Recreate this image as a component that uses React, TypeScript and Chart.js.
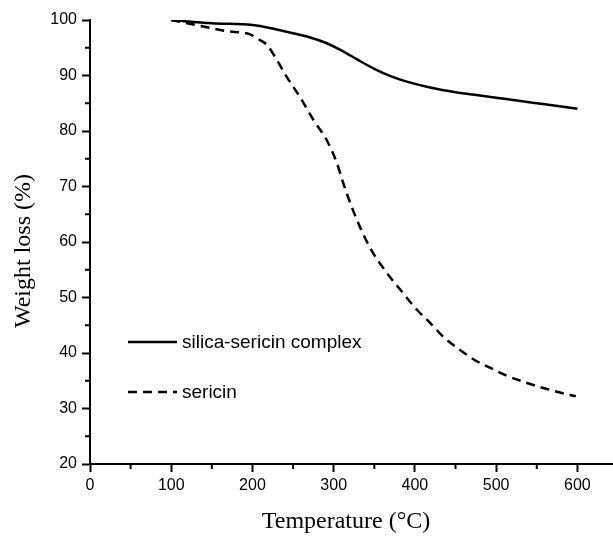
import React, { useEffect, useRef } from "react";
import { Chart, registerables } from "chart.js";

Chart.register(...registerables);

const complexTemps = [100, 150, 200, 230, 250, 270, 290, 310, 330, 350, 370, 390, 420, 450, 480, 500, 530, 560, 580, 600];
const complexWeight = [100, 99.4, 99.1, 98.3, 97.6, 96.9, 95.9, 94.5, 92.8, 91.2, 89.9, 88.9, 87.8, 87.0, 86.4, 86.0, 85.4, 84.8, 84.4, 84.0];

const sericinTemps = [100, 144, 168, 197, 209, 218, 230, 242, 259, 275, 292, 304, 312, 322, 333, 345, 361, 382, 403, 419, 435, 456, 474, 493, 513, 534, 558, 581, 598];
const sericinWeight = [100, 98.7, 98.0, 97.4, 96.4, 95.5, 92.8, 89.8, 86.0, 82.0, 78.2, 74.2, 70.5, 66.4, 62.5, 58.9, 55.3, 51.4, 47.7, 45.4, 42.9, 40.5, 38.7, 37.3, 35.9, 34.8, 33.7, 32.8, 32.2];

const seriesNames = ["silica-sericin complex", "sericin"];
const xTitle = "Temperature (°C)";
const yTitle = "Weight loss (%)";

export default function App() {
  const ref = useRef<HTMLCanvasElement | null>(null);
  useEffect(() => {
    const canvas = ref.current!;
    const extras = {
      id: "extras",
      afterDraw(chart: any) {
        const ctx = chart.ctx;
        const xs = chart.scales.x;
        const ys = chart.scales.y;
        ctx.save();
        ctx.strokeStyle = "#000";
        ctx.lineWidth = 2;
        // minor ticks
        for (let v = 50; v <= 650; v += 100) {
          const px = xs.getPixelForValue(v);
          ctx.beginPath();
          ctx.moveTo(px, xs.top);
          ctx.lineTo(px, xs.top + 5);
          ctx.stroke();
        }
        for (let v = 25; v < 100; v += 10) {
          const py = ys.getPixelForValue(v);
          ctx.beginPath();
          ctx.moveTo(ys.right, py);
          ctx.lineTo(ys.right - 5, py);
          ctx.stroke();
        }
        // legend
        const items = chart.data.datasets;
        const legendY = [342, 392];
        ctx.font = "19px 'Liberation Sans', Arial, sans-serif";
        ctx.textBaseline = "middle";
        ctx.fillStyle = "#000";
        items.forEach((ds: any, i: number) => {
          ctx.beginPath();
          ctx.lineWidth = 2.5;
          ctx.setLineDash(ds.borderDash || []);
          ctx.moveTo(128, legendY[i]);
          ctx.lineTo(177, legendY[i]);
          ctx.stroke();
          ctx.setLineDash([]);
          ctx.fillText(ds.label, 182, legendY[i] + 1);
        });
        // titles
        ctx.font = "24px 'Liberation Serif', 'Times New Roman', serif";
        ctx.textAlign = "center";
        ctx.textBaseline = "middle";
        ctx.fillText(xTitle, 346, 522);
        ctx.translate(24, 251);
        ctx.rotate(-Math.PI / 2);
        ctx.fillText(yTitle, 0, 0);
        ctx.restore();
      },
    };
    const chart = new Chart(canvas, {
      type: "line",
      data: {
        datasets: [
          {
            label: seriesNames[0],
            data: complexTemps.map((t, i) => ({ x: t, y: complexWeight[i] })),
            borderColor: "#000",
            borderWidth: 2.5,
            pointRadius: 0,
            cubicInterpolationMode: "monotone",
            fill: false,
          },
          {
            label: seriesNames[1],
            data: sericinTemps.map((t, i) => ({ x: t, y: sericinWeight[i] })),
            borderColor: "#000",
            borderWidth: 2.5,
            borderDash: [9, 6],
            pointRadius: 0,
            cubicInterpolationMode: "monotone",
            fill: false,
          },
        ],
      },
      options: {
        animation: false,
        responsive: false,
        maintainAspectRatio: false,
        layout: { padding: { left: 0, top: 20, right: 7, bottom: 0 } },
        plugins: { legend: { display: false }, tooltip: { enabled: false } },
        scales: {
          x: {
            type: "linear",
            min: 0,
            max: 650,
            afterFit: (s: any) => { s.height = 74; },
            border: { color: "#000", width: 2 },
            grid: {
              drawOnChartArea: false,
              drawTicks: true,
              tickLength: 8,
              tickWidth: 2,
              tickColor: (c: any) => (c.tick && c.tick.value % 100 === 0 ? "#000" : "rgba(0,0,0,0)"),
            },
            ticks: {
              stepSize: 50,
              autoSkip: false,
              maxRotation: 0,
              padding: 4,
              color: "#000",
              font: { family: "'Liberation Sans', Arial, sans-serif", size: 16 },
              callback: (v: any) => (Number(v) % 100 === 0 && Number(v) <= 600 ? String(v) : ""),
            },
          },
          y: {
            type: "linear",
            min: 20,
            max: 100,
            afterFit: (s: any) => { s.width = 90; },
            border: { color: "#000", width: 2 },
            grid: {
              drawOnChartArea: false,
              drawTicks: true,
              tickLength: 8,
              tickWidth: 2,
              tickColor: (c: any) => (c.tick && c.tick.value % 10 === 0 ? "#000" : "rgba(0,0,0,0)"),
            },
            ticks: {
              stepSize: 5,
              autoSkip: false,
              padding: 5,
              color: "#000",
              font: { family: "'Liberation Sans', Arial, sans-serif", size: 16 },
              callback: (v: any) => (Number(v) % 10 === 0 ? String(v) : ""),
            },
          },
        },
      },
      plugins: [extras],
    });
    return () => chart.destroy();
  }, []);
  return (
    <div style={{ position: "absolute", left: 0, top: 0, width: 613, height: 538, overflow: "hidden", background: "#fff" }}>
      <canvas ref={ref} width={625} height={538} style={{ display: "block" }} />
    </div>
  );
}
